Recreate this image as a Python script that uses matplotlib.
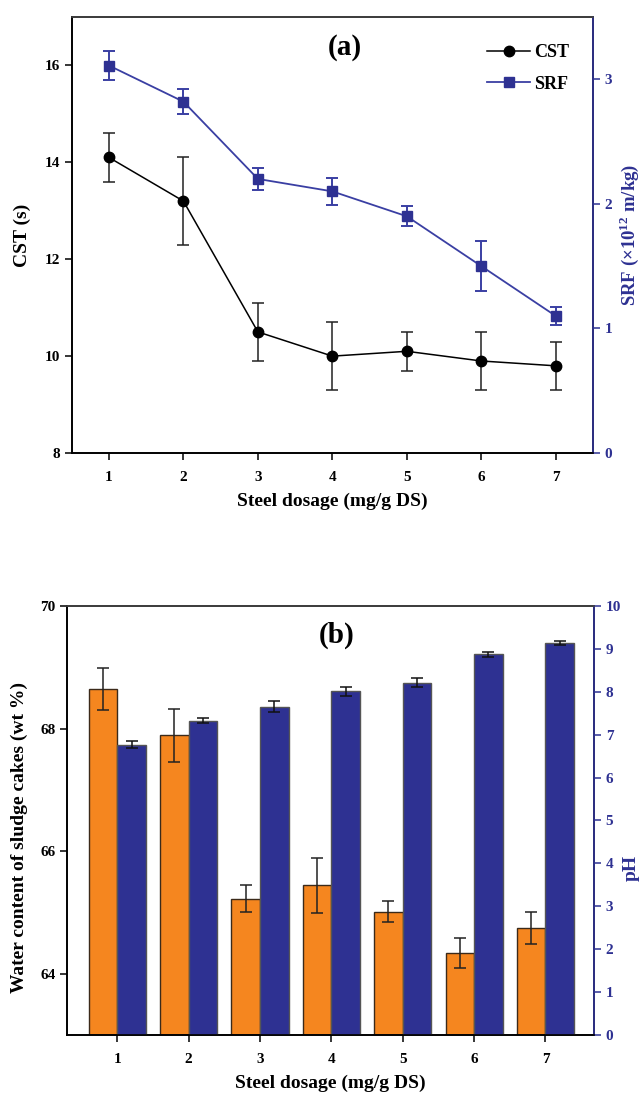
import numpy as np
import matplotlib
matplotlib.use("Agg")
import matplotlib.pyplot as plt

plt.rcParams['font.family'] = ['Liberation Serif', 'DejaVu Serif']
plt.rcParams['font.weight'] = 'bold'
plt.rcParams['axes.labelweight'] = 'bold'
plt.rcParams['mathtext.fontset'] = 'custom'
plt.rcParams['mathtext.rm'] = 'Liberation Serif:bold'
plt.rcParams['mathtext.bf'] = 'Liberation Serif:bold'

dosage = [1, 2, 3, 4, 5, 6, 7]

# panel (a)
cst = [14.1, 13.2, 10.5, 10.0, 10.1, 9.9, 9.8]
cst_err = [0.5, 0.9, 0.6, 0.7, 0.4, 0.6, 0.5]
srf = [3.11, 2.82, 2.20, 2.10, 1.90, 1.50, 1.10]
srf_err = [0.12, 0.10, 0.09, 0.11, 0.08, 0.20, 0.07]

# panel (b)
water = [68.64, 67.89, 65.22, 65.44, 65.01, 64.34, 64.74]
water_err = [0.34, 0.43, 0.22, 0.45, 0.17, 0.25, 0.26]
ph = [6.77, 7.33, 7.65, 8.01, 8.21, 8.87, 9.14]
ph_err = [0.08, 0.06, 0.13, 0.10, 0.10, 0.05, 0.05]

blue = '#2e3192'
line_blue = '#3a3fa3'
orange = '#f5861f'

fig = plt.figure(figsize=(6.42, 10.93), dpi=100)

# ---------- (a) ----------
ax1 = fig.add_axes([0.1117, 0.5855, 0.812, 0.399])
ax1.errorbar(dosage, cst, yerr=cst_err, fmt='none', ecolor='#222222',
             elinewidth=1.1, capsize=4, capthick=1.1)
l1, = ax1.plot(dosage, cst, color='black', lw=1.1, marker='o', ms=7.5,
               label='CST')
ax1.set_xlim(0.5, 7.5)
ax1.set_ylim(8, 17)
ax1.set_yticks([8, 10, 12, 14, 16])
ax1.set_xticks(dosage)
ax1.set_xlabel('Steel dosage (mg/g DS)', fontsize=14, labelpad=6)
ax1.set_ylabel('CST (s)', fontsize=14, labelpad=10)
ax1.tick_params(axis='both', labelsize=11, length=5, width=1.1)
ax1.tick_params(axis='x', pad=8)

ax2 = ax1.twinx()
ax2.errorbar(dosage, srf, yerr=srf_err, fmt='none', ecolor=line_blue,
             elinewidth=1.4, capsize=4, capthick=1.4)
l2, = ax2.plot(dosage, srf, color=line_blue, lw=1.3, marker='s', ms=6.5,
               mfc=blue, mec=blue, label='SRF')
ax2.set_ylim(0, 3.5)
ax2.set_yticks([0, 1, 2, 3])
ax2.set_ylabel('SRF (×10$^{12}$ m/kg)', fontsize=13.5, color=blue, labelpad=3)
ax2.tick_params(axis='y', labelsize=11, length=5, width=1.1, colors=blue)
for ax in (ax1, ax2):
    for s in ax.spines.values():
        s.set_linewidth(1.2)
ax2.spines['top'].set_color('#444444')
ax2.spines['right'].set_color(blue)

ax1.text(0.524, 0.931, '(a)', transform=ax1.transAxes, fontsize=21,
         ha='center', va='center')
ax2.legend([l1, l2], ['CST', 'SRF'], loc='upper right',
           bbox_to_anchor=(0.985, 0.975), frameon=False, fontsize=13,
           handlelength=2.4, handletextpad=0.2, labelspacing=0.8)

# ---------- (b) ----------
ax3 = fig.add_axes([0.1048, 0.0531, 0.8204, 0.3925])
x = np.array(dosage)
w = 0.4
ax3.bar(x - w / 2, water, width=w, color=orange, edgecolor='#3b2a1a',
        linewidth=1.0, yerr=water_err, capsize=4,
        error_kw=dict(ecolor='#222222', elinewidth=1.1, capthick=1.1))
ax3.set_xlim(0.3, 7.68)
ax3.set_ylim(63, 70)
ax3.set_yticks([64, 66, 68, 70])
ax3.set_xticks(dosage)
ax3.set_xlabel('Steel dosage (mg/g DS)', fontsize=14, labelpad=6)
ax3.set_ylabel('Water content of sludge cakes (wt %)', fontsize=14)
ax3.yaxis.set_label_coords(-0.075, 0.46)
ax3.tick_params(axis='both', labelsize=11, length=5, width=1.1)
ax3.tick_params(axis='x', pad=8)

ax4 = ax3.twinx()
ax4.bar(x + w / 2, ph, width=w, color=blue, edgecolor='#555555',
        linewidth=1.0, yerr=ph_err, capsize=4,
        error_kw=dict(ecolor='#111111', elinewidth=1.1, capthick=1.1))
ax4.set_ylim(0, 10)
ax4.set_yticks(range(0, 11))
ax4.set_ylabel('pH', fontsize=14, color=blue)
ax4.yaxis.set_label_coords(1.055, 0.39)
ax4.tick_params(axis='y', labelsize=11, length=5, width=1.1, colors=blue)
for ax in (ax3, ax4):
    for s in ax.spines.values():
        s.set_linewidth(1.2)
ax4.spines['top'].set_color('#444444')
ax4.spines['right'].set_color(blue)

ax3.text(0.511, 0.932, '(b)', transform=ax3.transAxes, fontsize=21,
         ha='center', va='center')

fig.savefig('out.png', dpi=100)
